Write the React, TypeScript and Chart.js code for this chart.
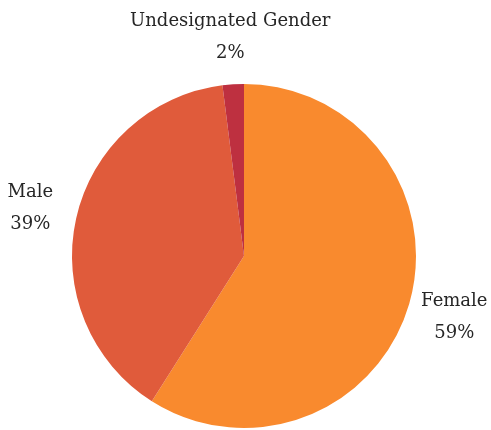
import React, { useEffect, useRef } from "react";
import { Chart, registerables } from "chart.js";

Chart.register(...registerables);

const categories = ["Female", "Male", "Undesignated Gender"];
const values = [59, 39, 2];
const colors = ["#F98A2E", "#E05B3B", "#BE3040"];

const labelPlugin = {
  id: "outerLabels",
  afterDraw(chart: any) {
    const ctx = chart.ctx;
    const meta = chart.getDatasetMeta(0);
    const total = values.reduce((a, b) => a + b, 0);
    ctx.save();
    ctx.fillStyle = "#262626";
    ctx.font = "18px 'DejaVu Serif'";
    ctx.textAlign = "center";
    ctx.textBaseline = "middle";
    meta.data.forEach((arc: any, i: number) => {
      const p = arc.getProps(["x", "y", "startAngle", "endAngle", "outerRadius"], true);
      const mid = (p.startAngle + p.endAngle) / 2;
      const r = p.outerRadius + 47;
      const cx = p.x + Math.cos(mid) * r;
      const cy = p.y + Math.sin(mid) * r;
      const pct = Math.round((values[i] / total) * 100) + "%";
      ctx.fillText(categories[i], cx, cy - 16);
      ctx.fillText(pct, cx, cy + 16);
    });
    ctx.restore();
  },
};

export default function App() {
  const ref = useRef<HTMLCanvasElement>(null);
  useEffect(() => {
    document.body.style.margin = "0";
    const chart = new Chart(ref.current!, {
      type: "pie",
      data: {
        labels: categories,
        datasets: [
          {
            data: values,
            backgroundColor: colors,
            borderWidth: 0,
          },
        ],
      },
      options: {
        responsive: false,
        animation: false,
        layout: { padding: { top: 84, bottom: 2, left: 72, right: 75 } },
        plugins: {
          legend: { display: false },
          tooltip: { enabled: false },
        },
      },
      plugins: [labelPlugin],
    });
    return () => chart.destroy();
  }, []);
  return (
    <div style={{ width: 491, height: 430, background: "#fff" }}>
      <canvas ref={ref} width={491} height={430} />
    </div>
  );
}
